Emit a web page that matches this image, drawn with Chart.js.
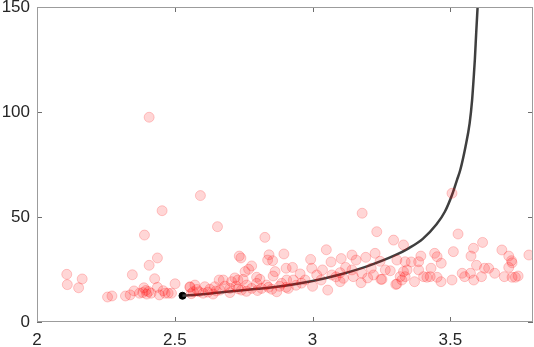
<!DOCTYPE html>
<html>
<head>
<meta charset="utf-8">
<script src="https://cdn.jsdelivr.net/npm/chart.js@4.4.1/dist/chart.umd.min.js"></script>
<style>
  html, body { margin: 0; padding: 0; background: #fff; }
  #wrap { width: 534px; height: 347px; position: relative; }
</style>
</head>
<body>
<div id="wrap"><canvas id="chart"></canvas></div>
<script>
// observed samples (x, y)
const sampleX = [
  2.108, 2.164, 2.110, 2.151, 2.256, 2.272, 2.321, 2.338, 2.352, 2.346,
  2.372, 2.384, 2.388, 2.398, 2.414, 2.444, 2.437, 2.465, 2.390, 2.454,
  2.437, 2.407, 2.427, 2.407, 2.501, 2.458, 2.476, 2.488, 2.555, 2.593,
  2.655, 2.827, 2.734, 2.740, 2.842, 2.837, 2.855, 2.896, 2.779, 2.768,
  2.755, 2.864, 2.857, 2.904, 2.661, 2.718, 2.729, 2.797, 2.555, 2.573,
  2.588, 2.609, 2.627, 2.645, 2.664, 2.682, 2.700, 2.706, 2.722, 2.742,
  2.761, 2.779, 2.797, 2.815, 2.833, 2.852, 2.870, 2.888, 2.904, 2.809,
  2.748, 2.676, 2.603, 2.567, 2.639, 3.180, 3.233, 3.294, 3.330, 3.050,
  2.993, 3.067, 3.104, 3.143, 3.158, 3.193, 3.227, 3.245, 3.306, 3.336,
  3.358, 2.927, 2.955, 2.997, 3.015, 3.036, 3.070, 3.100, 3.112, 3.143,
  3.148, 3.179, 3.213, 3.221, 3.252, 3.264, 3.282, 3.318, 3.330, 3.306,
  3.343, 3.176, 3.055, 2.973, 2.912, 2.906, 2.930, 3.100, 3.031, 3.506,
  3.528, 3.617, 3.584, 3.687, 3.511, 3.785, 3.443, 3.452, 3.393, 3.385,
  3.467, 3.575, 3.712, 3.722, 3.724, 3.595, 3.624, 3.639, 3.712, 3.385,
  3.430, 3.543, 3.573, 3.661, 3.613, 3.552, 3.696, 3.724, 3.736, 3.746,
  3.403, 3.415, 3.427, 3.452, 3.370, 3.466, 3.506, 3.585, 3.336, 3.302,
  3.248, 3.324, 2.560, 2.580, 2.620, 2.650, 2.700, 2.730, 2.760, 2.800,
  2.840, 2.880, 2.395, 2.405, 2.940, 2.960, 3.000, 3.085, 3.120, 3.200
];
const sampleY = [
  22.7, 20.5, 17.8, 16.3, 11.9, 12.4, 12.4, 12.9, 14.8, 22.5,
  13.7, 14.0, 16.3, 13.3, 13.7, 12.9, 16.5, 13.7, 41.4, 53.0,
  30.5, 27.0, 20.6, 97.5, 18.2, 14.9, 13.7, 13.7, 16.8, 60.2,
  45.4, 40.3, 31.4, 30.5, 32.0, 29.5, 29.2, 32.4, 26.7, 25.1,
  24.0, 24.0, 21.9, 25.6, 20.0, 21.0, 20.0, 21.3, 16.5, 17.6,
  14.4, 16.8, 15.6, 16.8, 15.2, 17.1, 16.0, 19.2, 17.1, 15.2,
  17.6, 16.0, 18.4, 16.0, 17.6, 15.6, 14.4, 18.4, 16.5, 20.3,
  20.3, 20.0, 13.7, 14.4, 13.3, 51.8, 43.0, 39.0, 36.7, 34.4,
  29.8, 28.6, 30.2, 31.9, 29.5, 30.8, 32.7, 28.9, 29.5, 28.7,
  28.6, 26.0, 22.9, 25.6, 22.4, 24.8, 22.4, 23.5, 20.8, 24.8,
  21.6, 23.2, 25.6, 22.4, 20.3, 24.8, 24.4, 21.6, 24.0, 18.1,
  24.8, 18.7, 15.2, 20.0, 16.0, 20.0, 20.0, 19.2, 20.0, 61.3,
  41.9, 37.9, 35.1, 34.3, 33.5, 31.9, 32.7, 31.1, 31.4, 28.7,
  28.0, 31.4, 31.4, 29.2, 28.2, 27.0, 25.6, 25.6, 26.0, 24.8,
  25.6, 23.2, 23.2, 23.2, 21.6, 21.6, 21.6, 21.3, 21.3, 21.9,
  21.6, 21.3, 21.6, 21.3, 19.2, 19.2, 20.0, 20.0, 21.6, 17.9,
  20.3, 20.0, 13.5, 15.5, 14.2, 14.8, 14.0, 15.8, 14.6, 15.0,
  16.5, 17.0, 15.0, 14.5, 17.5, 18.5, 17.0, 21.5, 26.0, 21.0
];

// fitted curve
const curveX = [2.528, 2.6, 2.688, 2.8, 2.9, 3.0, 3.1, 3.2, 3.3, 3.35, 3.4, 3.45,
  3.48, 3.506, 3.524, 3.536, 3.555, 3.57, 3.579, 3.585, 3.589, 3.594, 3.599];
const curveY = [12.5, 13.2, 14.4, 15.8, 17.3, 19.5, 22.6, 26.6, 31.8, 35.2, 39.6, 46.5,
  52.5, 60.5, 67.6, 72.4, 83.5, 94.6, 105.7, 116.8, 125.0, 138.0, 150.0];

const startX = [2.528];
const startY = [12.5];

const xTicks = [2, 2.5, 3, 3.5];
const yTicks = [0, 50, 100, 150];

const toPoints = (xs, ys) => xs.map((x, i) => ({ x, y: ys[i] }));

const frameColor = "#9c9c9c";
const tickMarkColor = "#6e6e6e";
const labelColor = "#262626";
const labelFont = { family: "'Liberation Sans', Arial, Helvetica, sans-serif", size: 17 };

const framePlugin = {
  id: "frame",
  afterDraw(chart) {
    const { ctx, chartArea: a, scales } = chart;
    const len = 5;
    ctx.save();
    ctx.strokeStyle = tickMarkColor;
    ctx.lineWidth = 1;
    ctx.beginPath();
    xTicks.forEach((v) => {
      const px = Math.round(scales.x.getPixelForValue(v)) + 0.5;
      ctx.moveTo(px, a.bottom);
      ctx.lineTo(px, a.bottom - len);
      ctx.moveTo(px, a.top);
      ctx.lineTo(px, a.top + len);
    });
    yTicks.forEach((v) => {
      const py = Math.round(scales.y.getPixelForValue(v)) + 0.5;
      ctx.moveTo(a.left, py);
      ctx.lineTo(a.left + len, py);
      ctx.moveTo(a.right, py);
      ctx.lineTo(a.right - len, py);
    });
    ctx.stroke();
    ctx.strokeStyle = frameColor;
    ctx.strokeRect(Math.round(a.left) + 0.5, Math.round(a.top) + 0.5,
      Math.round(a.right - a.left) - 1, Math.round(a.bottom - a.top) - 1);
    ctx.restore();
  },
};

new Chart(document.getElementById("chart"), {
  type: "scatter",
  data: {
    datasets: [
      {
        data: toPoints(sampleX, sampleY),
        backgroundColor: "rgba(255, 0, 0, 0.16)",
        borderColor: "rgba(255, 0, 0, 0.2)",
        borderWidth: 1,
        pointRadius: 5,
        order: 0,
      },
      {
        type: "line",
        data: toPoints(curveX, curveY),
        borderColor: "#3f3f3f",
        borderWidth: 2.5,
        pointRadius: 0,
        cubicInterpolationMode: "monotone",
        fill: false,
        order: 1,
      },
      {
        data: toPoints(startX, startY),
        backgroundColor: "#000",
        borderColor: "#000",
        borderWidth: 1,
        pointRadius: 3.5,
        order: 1,
      },
    ],
  },
  options: {
    responsive: true,
    maintainAspectRatio: false,
    animation: false,
    layout: { autoPadding: false, padding: { top: 7, right: 1, left: 0, bottom: 0 } },
    plugins: {
      legend: { display: false },
      tooltip: { enabled: false },
    },
    scales: {
      x: {
        type: "linear",
        min: 2,
        max: 3.8,
        grid: { display: false, drawTicks: false },
        border: { display: false },
        afterBuildTicks: (scale) => { scale.ticks = xTicks.map((value) => ({ value })); },
        afterFit: (scale) => {
          scale.height = 25;
          scale.paddingLeft = 0;
          scale.paddingRight = 0;
        },
        ticks: {
          color: labelColor,
          padding: 8,
          maxRotation: 0,
          autoSkip: false,
          font: labelFont,
          callback: (v) => String(v),
        },
      },
      y: {
        type: "linear",
        min: 0,
        max: 150,
        grid: { display: false, drawTicks: false },
        border: { display: false },
        afterBuildTicks: (scale) => { scale.ticks = yTicks.map((value) => ({ value })); },
        afterFit: (scale) => {
          scale.width = 37;
          scale.paddingTop = 0;
          scale.paddingBottom = 0;
        },
        ticks: {
          color: labelColor,
          padding: 7,
          autoSkip: false,
          font: labelFont,
          callback: (v) => String(v),
        },
      },
    },
  },
  plugins: [framePlugin],
});
</script>
</body>
</html>
